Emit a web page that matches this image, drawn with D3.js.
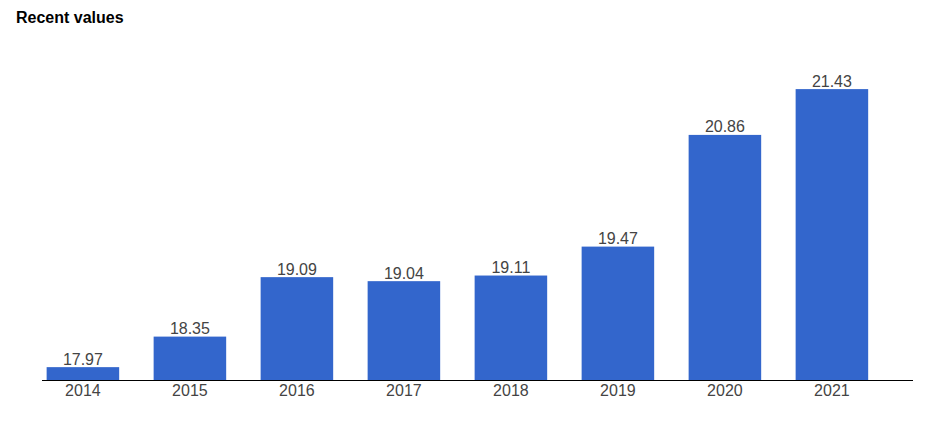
<!DOCTYPE html>
<html>
<head>
<meta charset="utf-8">
<script src="https://cdn.jsdelivr.net/npm/d3@7"></script>
<style>
html,body{margin:0;padding:0;background:#fff;}
svg{display:block;}
</style>
</head>
<body>
<svg id="chart" width="943" height="429"></svg>
<script>
const categories = ["2014","2015","2016","2017","2018","2019","2020","2021"];
const values = [17.97, 18.35, 19.09, 19.04, 19.11, 19.47, 20.86, 21.43];
const title = "Recent values";

const svg = d3.select("#chart");
const font = "Arial, 'Liberation Sans', sans-serif";

const x = d3.scaleBand().domain(categories).range([29.4, 885.4]).paddingInner(0.322).paddingOuter(0.161);
const y = d3.scaleLinear().domain([17.81, 22]).range([380, 43.3]);

svg.append("text").attr("x", 16).attr("y", 23).text(title)
  .attr("font-family", font).attr("font-size", 16).attr("font-weight", "bold").attr("fill", "#000");

svg.append("g").selectAll("rect").data(values).join("rect")
  .attr("x", (d,i) => x(categories[i]))
  .attr("y", d => y(d))
  .attr("width", x.bandwidth())
  .attr("height", d => y.range()[0] - y(d))
  .attr("fill", "#3366cc");

svg.append("g").selectAll("text").data(values).join("text")
  .attr("x", (d,i) => x(categories[i]) + x.bandwidth()/2)
  .attr("y", d => y(d) - 2.5)
  .attr("text-anchor", "middle")
  .attr("font-family", font).attr("font-size", 16).attr("fill", "#444")
  .text(d => d.toFixed(2));

const axis = svg.append("g").attr("transform", "translate(0,380)")
  .call(d3.axisBottom(x).tickSize(0).tickPadding(0));
axis.select(".domain").remove();
axis.selectAll("text").attr("font-family", font).attr("font-size", 16).attr("fill", "#444")
  .attr("dy", null).attr("y", 16);
axis.append("line").attr("x1", 42).attr("x2", 913).attr("y1", 0.5).attr("y2", 0.5)
  .attr("stroke", "#000").attr("stroke-width", 1.2);
</script>
</body>
</html>
